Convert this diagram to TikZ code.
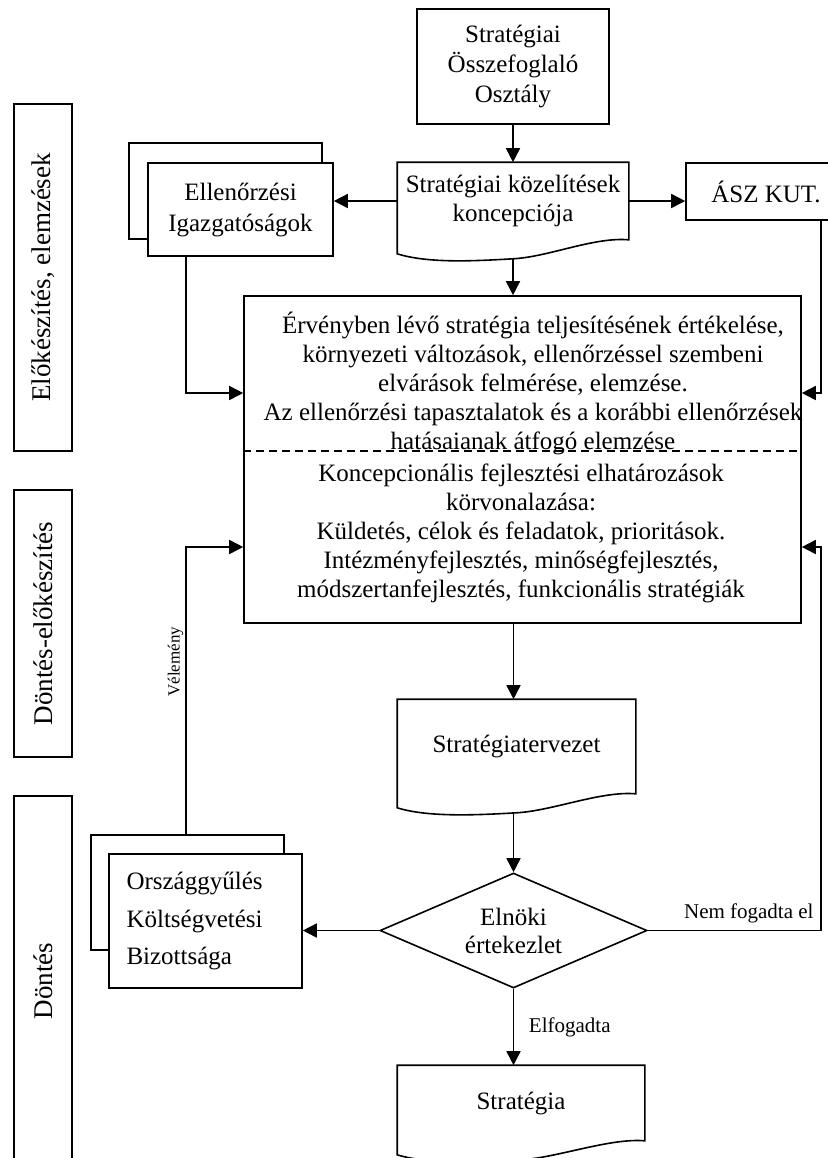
\documentclass[tikz,border=0pt]{standalone}
\usepackage{fontspec}
\setmainfont{Liberation Serif}
\usetikzlibrary{shapes.geometric,arrows.meta,calc,positioning}

\tikzset{every node/.style={font=\fontsize{12.5}{14.5}\selectfont}}
\tikzstyle{doboz}=[draw, rectangle, fill=white, align=center, inner sep=0pt]
\tikzstyle{hatso}=[draw, rectangle, fill=white]
\tikzstyle{sav}=[draw, rectangle, rotate=90, inner sep=0pt, font=\fontsize{13.5}{16}\selectfont]
\tikzstyle{dokumentum}=[rectangle, align=center, inner sep=0pt]
\tikzstyle{nyil}=[-{Triangle[length=7pt,width=7pt]}]
\tikzstyle{felirat}=[font=\fontsize{10.5}{12}\selectfont]

% hullamos aljú dokumentum keret a #1 csomópont köré
\newcommand{\hullam}[1]{%
  \draw (#1.north west) -- (#1.north east) -- (#1.south east)
    .. controls ($(#1.south east)+(-35,-3)$) and ($(#1.south)+(36,17)$) .. ($(#1.south)+(0,19)$) coordinate (#1-alja)
    .. controls ($(#1.south)+(-36,21)$) and ($(#1.south west)+(32,24)$) .. ($(#1.south west)+(0,14)$) -- cycle;}

\begin{document}
\begin{tikzpicture}[x=0.5pt, y=-0.5pt, line width=0.8pt]
\useasboundingbox (0,0) rectangle (828,1158);

% oldalso savok
\node[sav, minimum width=173.5pt, minimum height=29pt] (elokeszites) at (43,277.5) {Előkészítés, elemzések};
\node[sav, minimum width=133.5pt, minimum height=29pt] (dontes-elo) at (43,623.5) {Döntés-előkészítés};
\node[sav, minimum width=185pt, minimum height=29pt] (dontes) at (43,981) {Döntés};

\node[doboz, minimum width=96pt, minimum height=57.5pt, font=\fontsize{12.5}{15}\selectfont] (osztaly) at (513,66.5) {Stratégiai\\Összefoglaló\\Osztály};

\node[dokumentum, minimum width=115pt, minimum height=38pt] (koncepcio) at (513,201) {Stratégiai közelítések\\koncepciója};
\hullam{koncepcio}

\node[hatso, minimum width=96.5pt, minimum height=48pt] (ellenorzes-h) at (225.5,191) {};
\node[doboz, minimum width=92.5pt, minimum height=46.5pt, font=\fontsize{12.5}{15.5}\selectfont] (ellenorzes) at (240.5,209.5) {Ellenőrzési\\Igazgatóságok};

\node[doboz, minimum width=80pt, minimum height=28.5pt] (asz) at (766,191.5) {ÁSZ KUT.};

\node[doboz, minimum width=278.5pt, minimum height=163.5pt] (ertekeles) at (522.5,459.5) {};
\node[align=center] (helyzet) at (533,383) {Érvényben lévő stratégia teljesítésének értékelése,\\környezeti változások, ellenőrzéssel szembeni\\elvárások felmérése, elemzése.\\Az ellenőrzési tapasztalatok és a korábbi ellenőrzések\\hatásaianak átfogó elemzése};
\node[align=center] (koncepcionalis) at (521,533.5) {Koncepcionális fejlesztési elhatározások\\körvonalazása:\\Küldetés, célok és feladatok, prioritások.\\Intézményfejlesztés, minőségfejlesztés,\\módszertanfejlesztés, funkcionális stratégiák};
\coordinate (oszto) at (0,451);
\draw[dash pattern=on 4pt off 2.5pt] (ertekeles.west |- oszto) -- (ertekeles.east |- oszto);

\node[dokumentum, minimum width=118.5pt, minimum height=46.5pt] (terv) at (516.5,746.5) {Stratégiatervezet};
\hullam{terv}

\node[draw, diamond, aspect=2.3, minimum width=133.5pt, minimum height=57.5pt, inner sep=0pt, align=center, font=\fontsize{12.5}{14}\selectfont] (elnoki) at (513.5,930.5) {Elnöki\\értekezlet};

\node[hatso, minimum width=96.5pt, minimum height=57.5pt] (orszaggyules-h) at (187.5,892.5) {};
\node[doboz, minimum width=96.5pt, minimum height=67pt, align=left, text width=79pt, font=\fontsize{12.5}{18.75}\selectfont] (orszaggyules) at (205.5,921) {Országgyűlés\\Költségvetési\\Bizottsága};

\node[dokumentum, minimum width=123pt, minimum height=37pt] (strategia) at (521,1103) {Stratégia};
\hullam{strategia}

\coordinate (bal) at (186,0);
\coordinate (jobb) at (821,0);
\coordinate (be1) at (0,393);
\coordinate (be2) at (0,547);

\draw[nyil] (osztaly.south) -- (koncepcio.north);
\draw[nyil] (koncepcio.west) -- (koncepcio.west -| ellenorzes.east);
\draw[nyil] (koncepcio.east) -- (koncepcio.east -| asz.west);
\draw[nyil] (koncepcio-alja) -- (ertekeles.north -| koncepcio-alja);
\draw[nyil] (ellenorzes.south -| bal) |- (ertekeles.west |- be1);
\draw[nyil] (asz.south -| jobb) |- (ertekeles.east |- be1);
\draw[nyil] (ertekeles.south -| elnoki) -- (terv.north -| elnoki);
\draw[nyil] (terv-alja -| elnoki) -- (elnoki.north);
\draw[nyil] (elnoki.west) -- (elnoki.west -| orszaggyules.east);
\draw[nyil] (elnoki.east) -| node[pos=0.5, above left, felirat] {Nem fogadta el} (jobb |- be2) -- (ertekeles.east |- be2);
\draw[nyil] (elnoki.south) -- node[right=4pt, felirat] {Elfogadta} (strategia.north -| elnoki);
\draw[nyil] (orszaggyules-h.north -| bal) -- node[pos=0.6, rotate=90, above, inner sep=1pt, font=\fontsize{8.5}{10}\selectfont] {Vélemény} (bal |- be2) -- (ertekeles.west |- be2);
\end{tikzpicture}
\end{document}
